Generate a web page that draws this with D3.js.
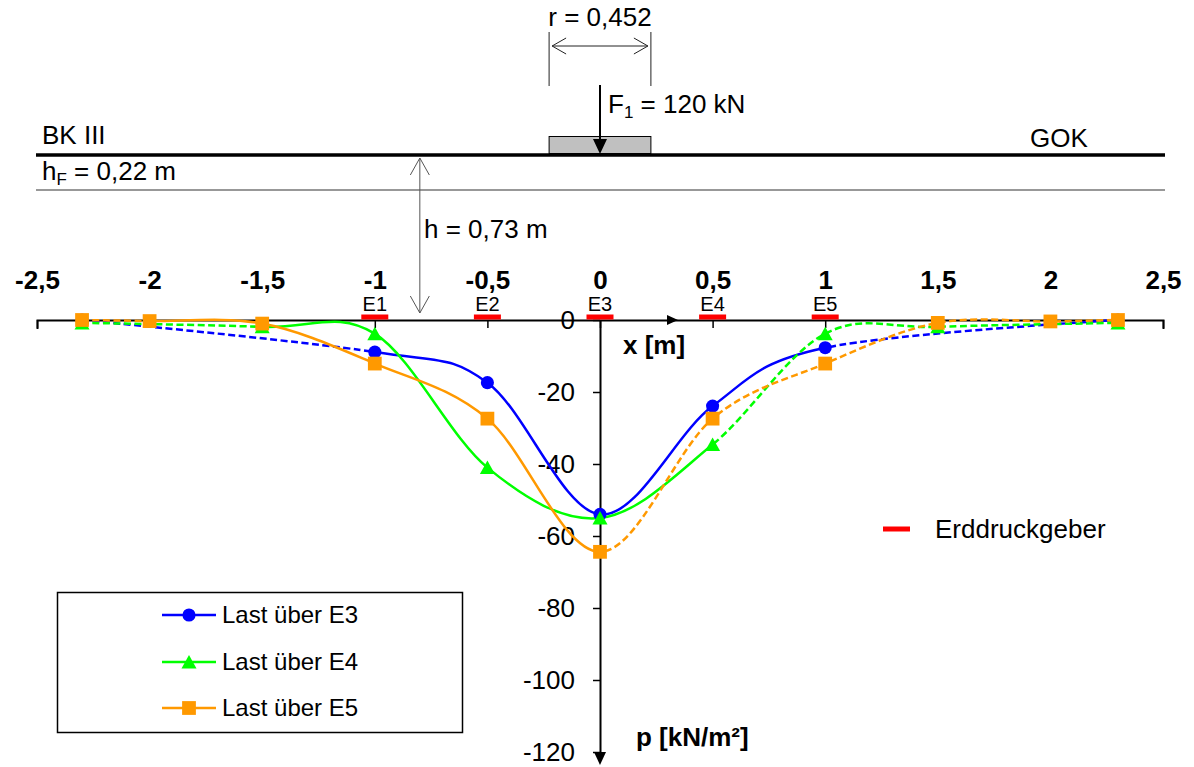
<!DOCTYPE html>
<html><head><meta charset="utf-8">
<script src="https://cdn.jsdelivr.net/npm/d3@7"></script>
<style>
body{margin:0;background:#fff;}
svg{display:block;font-family:"Liberation Sans",Arial,sans-serif;}
</style></head><body>
<svg id="chart" width="1194" height="767"></svg>
<script>
// ---- data ----
const xTicks = [-2.5,-2,-1.5,-1,-0.5,0,0.5,1,1.5,2,2.5];
const yTicks = [0,-20,-40,-60,-80,-100,-120];
const sensorNames = ["E1","E2","E3","E4","E5"];
const sensorX = [-1,-0.5,0,0.5,1];
const seriesNames = ["Last über E3","Last über E4","Last über E5"];
const blueX = [-2.3,-1,-0.5,0,0.5,1,2.3];
const blueP = [0,-8.9,-17.4,-54,-23.9,-7.7,0];
const greenX = [-2.3,-1.5,-1,-0.5,0,0.5,1,1.5,2.3];
const greenP = [-0.8,-1.9,-3.8,-41,-55,-34.6,-3.8,-1.9,-0.8];
const orangeX = [-2.3,-2,-1.5,-1,-0.5,0,0.5,1,1.5,2,2.3];
const orangeP = [0,-0.3,-1.0,-12.1,-27.4,-64.4,-27.4,-12.1,-0.8,-0.4,0];
const blueMeasured = [-1,1];
const greenMeasured = [-1.5,0.5];
const orangeMeasured = [-2,0];
const plateR = 0.452;
const hX = -0.8;

const W = 1194, H = 767;
const svg = d3.select("#chart");
const x = d3.scaleLinear().domain([-2.5,2.5]).range([37,1163]);
const y = d3.scaleLinear().domain([0,-120]).range([320,752]);
const fmt = d => String(d).replace(".", ",");

const series = [
  {name: seriesNames[0], xs: blueX, ps: blueP, m: blueMeasured, color: "#0000ff", sym: "circle"},
  {name: seriesNames[1], xs: greenX, ps: greenP, m: greenMeasured, color: "#00ff00", sym: "triangle"},
  {name: seriesNames[2], xs: orangeX, ps: orangeP, m: orangeMeasured, color: "#ff9900", sym: "square"}
];

function markerPath(type){
  if(type==="circle") return d3.symbol(d3.symbolCircle, 135)();
  if(type==="square") return d3.symbol(d3.symbolSquare, 190)();
  return "M0,-7L7.5,6.5L-7.5,6.5Z";
}

// ---- schematic ----
const schem = svg.append("g");
schem.append("text").attr("x", x(0)).attr("y", 26).attr("text-anchor","middle")
  .attr("font-size", 26).text("r = 0,452");
[-plateR/2, plateR/2].forEach(v => {
  schem.append("line").attr("x1", x(v)).attr("x2", x(v)).attr("y1", 32).attr("y2", 86)
    .attr("stroke", "#222").attr("stroke-width", 1);
});
const xl = x(-plateR/2)+3, xr = x(plateR/2)-3;
schem.append("line").attr("x1", xl).attr("x2", xr).attr("y1", 46).attr("y2", 46)
  .attr("stroke","#222").attr("stroke-width",1);
schem.append("path").attr("d", `M${xl+14},38L${xl},46L${xl+14},54M${xr-14},38L${xr},46L${xr-14},54`)
  .attr("fill","none").attr("stroke","#222").attr("stroke-width",1);
schem.append("rect").attr("x", x(-plateR/2)).attr("y", 136.5)
  .attr("width", x(plateR/2)-x(-plateR/2)).attr("height", 17)
  .attr("fill","#c0c0c0").attr("stroke","#000").attr("stroke-width",1);
schem.append("line").attr("x1", x(0)).attr("x2", x(0)).attr("y1", 85).attr("y2", 142)
  .attr("stroke","#000").attr("stroke-width",2);
schem.append("path").attr("d", `M${x(0)-7},139L${x(0)+7},139L${x(0)},154Z`).attr("fill","#000");
const ft = schem.append("text").attr("x", 608).attr("y", 113).attr("font-size", 26);
ft.append("tspan").text("F");
ft.append("tspan").attr("font-size", 17).attr("dy", 5).text("1");
ft.append("tspan").attr("dy", -5).text(" = 120 kN");
schem.append("line").attr("x1", 36).attr("x2", 1165).attr("y1", 155).attr("y2", 155)
  .attr("stroke","#000").attr("stroke-width",3.5);
schem.append("line").attr("x1", 36).attr("x2", 1165).attr("y1", 190).attr("y2", 190)
  .attr("stroke","#333").attr("stroke-width",1.2);
schem.append("text").attr("x", 42).attr("y", 144).attr("font-size", 26).text("BK III");
schem.append("text").attr("x", 1030).attr("y", 147).attr("font-size", 26).text("GOK");
const hf = schem.append("text").attr("x", 42).attr("y", 180).attr("font-size", 26);
hf.append("tspan").text("h");
hf.append("tspan").attr("font-size", 17).attr("dy", 5).text("F");
hf.append("tspan").attr("dy", -5).text(" = 0,22 m");
const hx = x(hX);
schem.append("line").attr("x1", hx).attr("x2", hx).attr("y1", 158).attr("y2", 313)
  .attr("stroke","#555").attr("stroke-width",1);
schem.append("path").attr("d", `M${hx-9.5},175L${hx},158L${hx+9.5},175M${hx-9.5},296L${hx},313L${hx+9.5},296`)
  .attr("fill","none").attr("stroke","#555").attr("stroke-width",1);
schem.append("text").attr("x", 424).attr("y", 238).attr("font-size", 26).text("h = 0,73 m");

// ---- axes ----
const xAxis = svg.append("g").attr("transform", `translate(0,${y(0)})`)
  .call(d3.axisTop(x).tickValues(xTicks).tickSizeInner(-8).tickSizeOuter(-9)
        .tickPadding(31).tickFormat(fmt));
xAxis.select(".domain").attr("stroke-width", 2);
xAxis.selectAll(".tick line").attr("stroke-width", 1.5);
xAxis.selectAll("text").attr("font-size", 26).attr("font-weight","bold")
  .attr("font-family","Liberation Sans, Arial, sans-serif").attr("fill","#000");

const yAxis = svg.append("g").attr("transform", `translate(${x(0)},0)`)
  .call(d3.axisLeft(y).tickValues(yTicks).tickSize(7).tickPadding(18)
        .tickSizeOuter(0).tickFormat(fmt));
yAxis.select(".domain").attr("stroke-width", 2);
yAxis.selectAll(".tick line").attr("stroke-width", 1.5);
yAxis.selectAll("text").attr("font-size", 26)
  .attr("font-family","Liberation Sans, Arial, sans-serif").attr("fill","#000");
svg.append("line").attr("x1", x(0)).attr("x2", x(0)).attr("y1", y(-120)).attr("y2", 757)
  .attr("stroke","#000").attr("stroke-width",2);
svg.append("path").attr("d", `M${x(0)-6},752L${x(0)+6},752L${x(0)},765Z`).attr("fill","#000");
svg.append("path").attr("d", `M667,315L678,${y(0)}L667,325Z`).attr("fill","#000");
svg.append("text").attr("x", 623).attr("y", 354).attr("font-size", 26).attr("font-weight","bold").text("x [m]");
svg.append("text").attr("x", 636).attr("y", 746).attr("font-size", 26).attr("font-weight","bold").text("p [kN/m²]");

// ---- series ----
const defs = svg.append("defs");
const line = d3.line().x(d => x(d[0])).y(d => y(d[1])).curve(d3.curveCatmullRom.alpha(0));
series.forEach((s, i) => {
  const cs = defs.append("clipPath").attr("id", "solid"+i);
  cs.append("rect").attr("x", x(s.m[0])).attr("y", 0).attr("width", x(s.m[1])-x(s.m[0])).attr("height", H);
  const cd = defs.append("clipPath").attr("id", "dash"+i);
  cd.append("rect").attr("x", 0).attr("y", 0).attr("width", x(s.m[0])).attr("height", H);
  cd.append("rect").attr("x", x(s.m[1])).attr("y", 0).attr("width", W-x(s.m[1])).attr("height", H);
});
const lineG = svg.append("g");
series.forEach((s, i) => {
  const pts = s.xs.map((v, k) => [v, s.ps[k]]);
  lineG.append("path").attr("d", line(pts)).attr("fill","none").attr("stroke", s.color)
    .attr("stroke-width", 2.5).attr("stroke-dasharray","7,3.5").attr("clip-path", `url(#dash${i})`);
  lineG.append("path").attr("d", line(pts)).attr("fill","none").attr("stroke", s.color)
    .attr("stroke-width", 2.5).attr("clip-path", `url(#solid${i})`);
});
const markG = svg.append("g");
series.forEach(s => {
  markG.selectAll(null).data(s.xs.map((v, k) => [v, s.ps[k]])).enter().append("path")
    .attr("d", markerPath(s.sym)).attr("fill", s.color)
    .attr("transform", d => `translate(${x(d[0])},${y(d[1])})`);
});

// ---- sensors ----
const sg = svg.append("g");
sensorX.forEach((v, k) => {
  sg.append("rect").attr("x", x(v)-13.5).attr("y", y(0)-5.5).attr("width", 27).attr("height", 5)
    .attr("fill", "#ff0000");
  sg.append("text").attr("x", x(v)).attr("y", 311).attr("text-anchor","middle")
    .attr("font-size", 20).text(sensorNames[k]);
});
svg.append("line").attr("x1", 883).attr("x2", 910).attr("y1", 529).attr("y2", 529)
  .attr("stroke","#ff0000").attr("stroke-width",5);
svg.append("text").attr("x", 935).attr("y", 538).attr("font-size", 26).text("Erddruckgeber");

// ---- legend ----
const lg = svg.append("g");
lg.append("rect").attr("x", 57.5).attr("y", 592.5).attr("width", 405).attr("height", 140)
  .attr("fill","#fff").attr("stroke","#000").attr("stroke-width",1.5);
const legY = [615, 662, 708];
series.forEach((s, i) => {
  lg.append("line").attr("x1", 162).attr("x2", 216).attr("y1", legY[i]).attr("y2", legY[i])
    .attr("stroke", s.color).attr("stroke-width", 2.5);
  lg.append("path").attr("d", markerPath(s.sym)).attr("fill", s.color)
    .attr("transform", `translate(189,${legY[i]})`);
  lg.append("text").attr("x", 222).attr("y", legY[i]+8).attr("font-size", 24).text(s.name);
});
</script>
</body></html>
